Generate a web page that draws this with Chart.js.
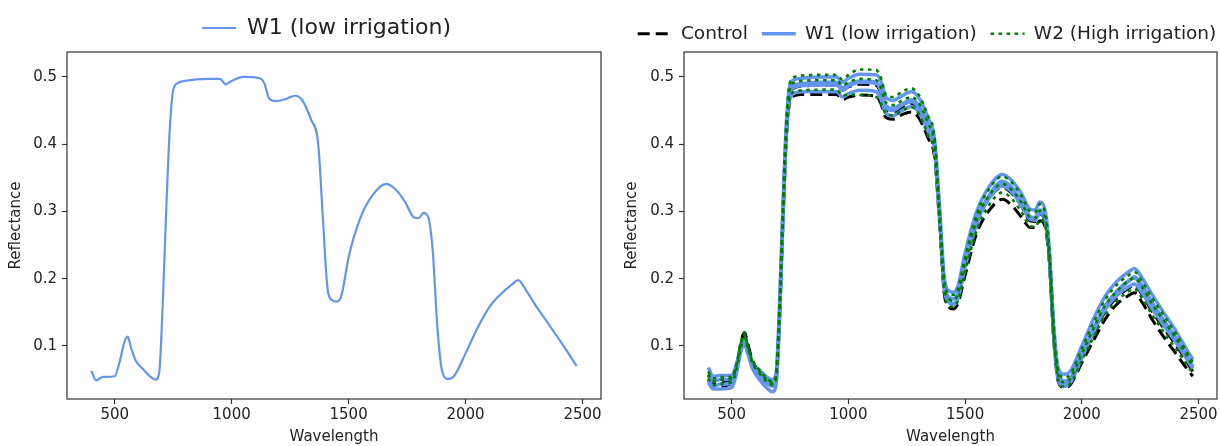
<!DOCTYPE html>
<html>
<head>
<meta charset="utf-8">
<script src="https://cdn.jsdelivr.net/npm/chart.js@4"></script>
<style>
  html, body { margin: 0; padding: 0; background: #fff; }
  #marco { position: relative; width: 1220px; height: 446px; }
  canvas { position: absolute; top: 0; }
  #izq { left: 0; }
  #der { left: 610px; }
</style>
</head>
<body>
<div id="marco">
  <canvas id="izq" width="610" height="446"></canvas>
  <canvas id="der" width="610" height="446"></canvas>
</div>
<script>
// Longitudes de onda (nm)
const longitudes = [400, 420, 450, 500, 520, 540, 555, 570, 590, 620, 650, 675, 690, 705, 720, 735, 750, 770, 800, 900,
  950, 975, 1000, 1050, 1120, 1140, 1160, 1190, 1230, 1270, 1300, 1340, 1370, 1390, 1410, 1430, 1450, 1470, 1500, 1550,
  1600, 1660, 1700, 1740, 1780, 1800, 1820, 1840, 1860, 1880, 1900, 1925, 1950, 2000, 2050, 2100, 2150, 2200, 2225, 2260,
  2300, 2350, 2400, 2440, 2475];

// Panel izquierdo: W1 promedio
const w1Izq = [0.063, 0.049, 0.054, 0.055, 0.075, 0.104, 0.114, 0.097, 0.078, 0.066, 0.055, 0.050, 0.060, 0.160, 0.300, 0.420, 0.480, 0.491, 0.494, 0.497,
  0.497, 0.489, 0.494, 0.500, 0.498, 0.490, 0.468, 0.464, 0.467, 0.472, 0.466, 0.436, 0.400, 0.290, 0.185, 0.168, 0.166, 0.176, 0.232, 0.290,
  0.323, 0.341, 0.333, 0.315, 0.291, 0.290, 0.298, 0.292, 0.240, 0.125, 0.062, 0.051, 0.055, 0.089, 0.126, 0.157, 0.177, 0.192, 0.198, 0.182,
  0.160, 0.135, 0.110, 0.089, 0.070];

// Panel derecho: Control (discontinua negra)
const control1 = [0.050, 0.038, 0.040, 0.045, 0.065, 0.102, 0.118, 0.100, 0.074, 0.058, 0.047, 0.042, 0.050, 0.140, 0.285, 0.410, 0.464, 0.472, 0.474, 0.474,
  0.474, 0.466, 0.470, 0.473, 0.471, 0.460, 0.440, 0.437, 0.444, 0.448, 0.440, 0.410, 0.378, 0.285, 0.180, 0.158, 0.155, 0.164, 0.205, 0.268,
  0.300, 0.318, 0.309, 0.292, 0.276, 0.276, 0.286, 0.280, 0.228, 0.108, 0.046, 0.038, 0.042, 0.075, 0.108, 0.140, 0.162, 0.175, 0.179, 0.164,
  0.140, 0.114, 0.090, 0.071, 0.055];
const control2 = [0.056, 0.045, 0.046, 0.048, 0.068, 0.106, 0.120, 0.102, 0.078, 0.062, 0.050, 0.045, 0.053, 0.148, 0.295, 0.420, 0.474, 0.484, 0.486, 0.488,
  0.488, 0.480, 0.485, 0.489, 0.487, 0.475, 0.452, 0.448, 0.455, 0.460, 0.452, 0.422, 0.390, 0.295, 0.190, 0.168, 0.166, 0.176, 0.220, 0.283,
  0.318, 0.336, 0.327, 0.309, 0.286, 0.285, 0.296, 0.288, 0.235, 0.115, 0.052, 0.043, 0.047, 0.082, 0.118, 0.151, 0.172, 0.186, 0.190, 0.175,
  0.152, 0.127, 0.103, 0.082, 0.062];

// W1 (azul continua)
const w1a = [0.068, 0.055, 0.056, 0.056, 0.072, 0.098, 0.104, 0.090, 0.074, 0.064, 0.054, 0.050, 0.058, 0.160, 0.310, 0.435, 0.488, 0.496, 0.498, 0.500,
  0.500, 0.492, 0.498, 0.504, 0.503, 0.493, 0.470, 0.465, 0.472, 0.478, 0.470, 0.440, 0.405, 0.310, 0.205, 0.182, 0.180, 0.190, 0.238, 0.300,
  0.335, 0.355, 0.346, 0.327, 0.303, 0.302, 0.314, 0.305, 0.250, 0.130, 0.066, 0.058, 0.062, 0.100, 0.140, 0.174, 0.196, 0.210, 0.215, 0.200,
  0.177, 0.150, 0.124, 0.100, 0.080];
const w1b = [0.058, 0.048, 0.050, 0.051, 0.068, 0.100, 0.110, 0.094, 0.074, 0.062, 0.050, 0.044, 0.052, 0.150, 0.300, 0.425, 0.478, 0.488, 0.490, 0.492,
  0.492, 0.484, 0.489, 0.494, 0.492, 0.480, 0.458, 0.453, 0.460, 0.466, 0.458, 0.428, 0.395, 0.300, 0.195, 0.173, 0.170, 0.180, 0.225, 0.288,
  0.322, 0.342, 0.333, 0.314, 0.292, 0.291, 0.302, 0.294, 0.240, 0.120, 0.058, 0.048, 0.052, 0.088, 0.126, 0.160, 0.182, 0.197, 0.201, 0.186,
  0.163, 0.137, 0.112, 0.090, 0.070];
const w1c = [0.050, 0.040, 0.043, 0.045, 0.062, 0.095, 0.106, 0.090, 0.070, 0.057, 0.045, 0.040, 0.048, 0.140, 0.290, 0.415, 0.468, 0.476, 0.478, 0.478,
  0.478, 0.470, 0.475, 0.480, 0.478, 0.466, 0.446, 0.442, 0.450, 0.456, 0.448, 0.420, 0.388, 0.295, 0.188, 0.166, 0.163, 0.173, 0.218, 0.282,
  0.318, 0.338, 0.329, 0.310, 0.288, 0.287, 0.297, 0.290, 0.236, 0.116, 0.054, 0.045, 0.049, 0.084, 0.121, 0.154, 0.175, 0.188, 0.192, 0.178,
  0.156, 0.131, 0.107, 0.086, 0.066];
const w1d = [0.046, 0.036, 0.036, 0.038, 0.058, 0.092, 0.103, 0.088, 0.066, 0.050, 0.038, 0.032, 0.042, 0.140, 0.295, 0.420, 0.476, 0.485, 0.487, 0.488,
  0.488, 0.480, 0.486, 0.492, 0.490, 0.478, 0.455, 0.450, 0.458, 0.463, 0.455, 0.426, 0.393, 0.298, 0.190, 0.166, 0.161, 0.171, 0.220, 0.285,
  0.322, 0.345, 0.336, 0.316, 0.291, 0.289, 0.300, 0.292, 0.238, 0.112, 0.048, 0.040, 0.045, 0.082, 0.122, 0.157, 0.180, 0.196, 0.203, 0.189,
  0.165, 0.139, 0.113, 0.090, 0.068];

// W2 (verde punteada)
const w2a = [0.062, 0.052, 0.054, 0.054, 0.072, 0.106, 0.120, 0.100, 0.078, 0.064, 0.052, 0.047, 0.056, 0.158, 0.310, 0.438, 0.492, 0.500, 0.502, 0.503,
  0.503, 0.496, 0.503, 0.511, 0.510, 0.498, 0.474, 0.470, 0.478, 0.483, 0.474, 0.443, 0.408, 0.305, 0.200, 0.178, 0.176, 0.186, 0.232, 0.296,
  0.332, 0.352, 0.343, 0.324, 0.300, 0.299, 0.311, 0.302, 0.246, 0.126, 0.062, 0.053, 0.058, 0.096, 0.135, 0.169, 0.191, 0.205, 0.210, 0.195,
  0.172, 0.146, 0.120, 0.097, 0.076];
const w2b = [0.058, 0.048, 0.050, 0.051, 0.070, 0.104, 0.116, 0.098, 0.076, 0.062, 0.050, 0.045, 0.054, 0.152, 0.300, 0.428, 0.482, 0.492, 0.494, 0.495,
  0.495, 0.487, 0.492, 0.497, 0.495, 0.484, 0.462, 0.458, 0.465, 0.470, 0.462, 0.432, 0.398, 0.298, 0.192, 0.170, 0.168, 0.178, 0.224, 0.287,
  0.322, 0.341, 0.332, 0.314, 0.291, 0.290, 0.301, 0.293, 0.240, 0.118, 0.056, 0.046, 0.051, 0.088, 0.126, 0.160, 0.181, 0.197, 0.201, 0.187,
  0.163, 0.138, 0.113, 0.091, 0.070];
const w2c = [0.052, 0.042, 0.044, 0.046, 0.064, 0.098, 0.112, 0.096, 0.074, 0.059, 0.047, 0.042, 0.050, 0.142, 0.288, 0.414, 0.470, 0.478, 0.480, 0.481,
  0.481, 0.472, 0.474, 0.473, 0.470, 0.460, 0.446, 0.443, 0.450, 0.455, 0.446, 0.414, 0.382, 0.288, 0.182, 0.160, 0.158, 0.168, 0.210, 0.272,
  0.308, 0.328, 0.319, 0.300, 0.278, 0.277, 0.288, 0.282, 0.230, 0.110, 0.048, 0.040, 0.044, 0.078, 0.113, 0.146, 0.167, 0.181, 0.185, 0.170,
  0.147, 0.121, 0.097, 0.077, 0.059];

// Ejes
const ticksX = [500, 1000, 1500, 2000, 2500];
const ticksY = [0.1, 0.2, 0.3, 0.4, 0.5];
const rangoX = { min: 296, max: 2579 };
const rangoY = { min: 0.0212, max: 0.537 };

const AZUL = '#6495ED';
const VERDE = '#008000';
const NEGRO = '#000000';
const FUENTE = "'DejaVu Sans', sans-serif";

function puntos(valores) {
  return longitudes.map((x, i) => ({ x: x, y: valores[i] }));
}

function serie(etiqueta, valores, color, ancho, guiones, orden, enLeyenda) {
  return {
    label: etiqueta,
    data: puntos(valores),
    borderColor: color,
    backgroundColor: color,
    borderWidth: ancho,
    borderDash: guiones,
    pointRadius: 0,
    fill: false,
    cubicInterpolationMode: 'monotone',
    order: orden,
    enLeyenda: enLeyenda
  };
}

// Marco completo alrededor del area de trazado (estilo matplotlib)
const marco = {
  id: 'marco',
  afterDraw(chart) {
    const { ctx, chartArea: a } = chart;
    ctx.save();
    ctx.strokeStyle = '#333';
    ctx.lineWidth = 1.2;
    ctx.strokeRect(a.left, a.top, a.right - a.left, a.bottom - a.top);
    ctx.restore();
  }
};

// Desplaza la leyenda para centrarla como en la figura original
const moverLeyenda = {
  id: 'moverLeyenda',
  afterLayout(chart, args, opts) {
    const l = chart.legend;
    l.left += opts.dx; l.right += opts.dx;
    l.top += opts.dy; l.bottom += opts.dy;
  }
};

function leyenda(tam, sep) {
  return {
    position: 'top',
    labels: {
      font: { family: FUENTE, size: tam },
      color: '#222',
      padding: sep,
      usePointStyle: true,
      pointStyleWidth: 34,
      generateLabels: chart => Chart.defaults.plugins.legend.labels.generateLabels(chart).map(item => {
        const ds = chart.data.datasets[item.datasetIndex];
        item.pointStyle = 'line';
        item.lineWidth = ds.borderWidth;
        item.lineDash = ds.borderDash;
        item.strokeStyle = ds.borderColor;
        return item;
      }),
      filter: (item, data) => data.datasets[item.datasetIndex].enLeyenda,
      sort: (a, b) => a.datasetIndex - b.datasetIndex
    }
  };
}

function ejes(anchoY, padTituloY) {
  const marcas = { drawOnChartArea: false, tickLength: 5, tickColor: '#333', tickWidth: 1.2 };
  return {
    x: {
      type: 'linear',
      min: rangoX.min,
      max: rangoX.max,
      afterBuildTicks: s => { s.ticks = ticksX.map(v => ({ value: v })); },
      afterFit: s => { s.height = 47; },
      grid: marcas,
      border: { display: false },
      ticks: { color: '#222', font: { family: FUENTE, size: 15 }, padding: 2, maxRotation: 0, autoSkip: false, callback: v => String(v) },
      title: { display: true, text: 'Wavelength', color: '#222', font: { family: FUENTE, size: 15 }, padding: { top: 0, bottom: 0 } }
    },
    y: {
      type: 'linear',
      min: rangoY.min,
      max: rangoY.max,
      afterBuildTicks: s => { s.ticks = ticksY.map(v => ({ value: v })); },
      afterFit: s => { s.width = anchoY; },
      grid: marcas,
      border: { display: false },
      ticks: { color: '#222', font: { family: FUENTE, size: 15 }, padding: 5, autoSkip: false, callback: v => String(v) },
      title: { display: true, text: 'Reflectance', color: '#222', font: { family: FUENTE, size: 15 }, padding: { top: padTituloY, bottom: 0 } }
    }
  };
}

// Panel izquierdo
new Chart(document.getElementById('izq'), {
  type: 'line',
  data: {
    datasets: [serie('W1 (low irrigation)', w1Izq, AZUL, 2.2, [], 0, true)]
  },
  options: {
    responsive: false,
    animation: false,
    layout: { padding: { top: 10, right: 9, left: 0, bottom: 0 } },
    plugins: {
      legend: leyenda(22, 10),
      tooltip: { enabled: false },
      moverLeyenda: { dx: 26, dy: -3 }
    },
    scales: ejes(67, 7)
  },
  plugins: [marco, moverLeyenda]
});

// Panel derecho
new Chart(document.getElementById('der'), {
  type: 'line',
  data: {
    datasets: [
      serie('Control', control1, NEGRO, 3, [12, 6], 2, true),
      serie('Control', control2, NEGRO, 3, [12, 6], 2, false),
      serie('W1 (low irrigation)', w1a, AZUL, 3.5, [], 1, true),
      serie('W1 (low irrigation)', w1b, AZUL, 3.5, [], 1, false),
      serie('W1 (low irrigation)', w1c, AZUL, 3.5, [], 1, false),
      serie('W1 (low irrigation)', w1d, AZUL, 3.5, [], 1, false),
      serie('W2 (High irrigation)', w2a, VERDE, 2.6, [3.5, 4.5], 0, true),
      serie('W2 (High irrigation)', w2b, VERDE, 2.6, [3.5, 4.5], 0, false),
      serie('W2 (High irrigation)', w2c, VERDE, 2.6, [3.5, 4.5], 0, false)
    ]
  },
  options: {
    responsive: false,
    animation: false,
    layout: { padding: { top: 9.5, right: 3, left: 0, bottom: 0 } },
    plugins: {
      legend: leyenda(18.5, 14),
      tooltip: { enabled: false },
      moverLeyenda: { dx: 13.5, dy: 1 }
    },
    scales: ejes(74, 13)
  },
  plugins: [marco, moverLeyenda]
});
</script>
</body>
</html>
